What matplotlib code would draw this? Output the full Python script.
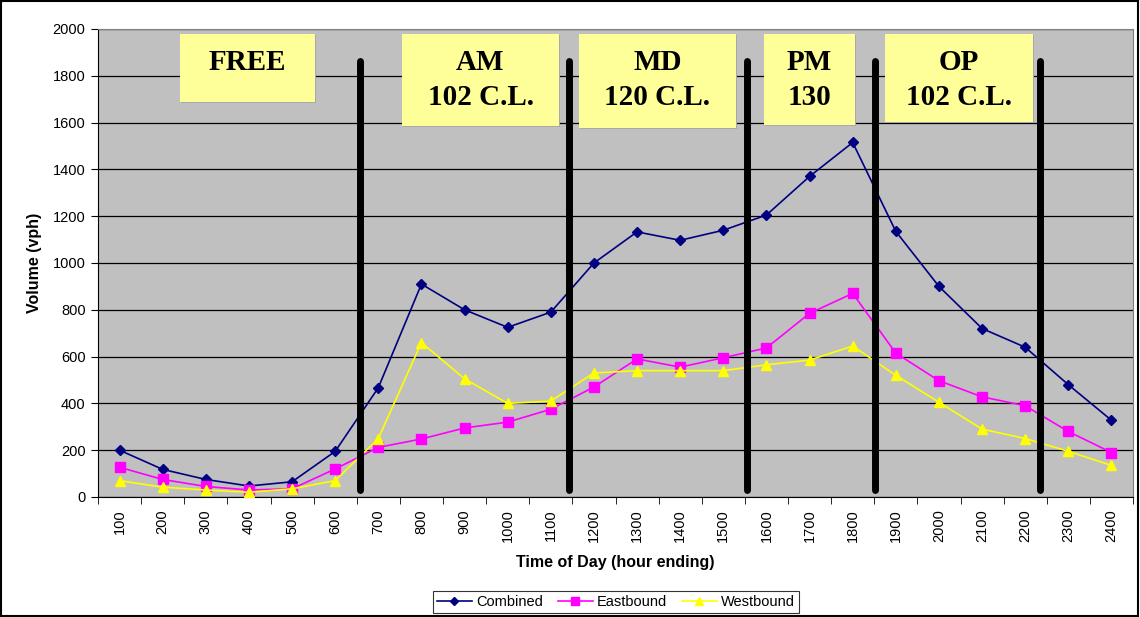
import matplotlib.pyplot as plt
from matplotlib.patches import Rectangle
import numpy as np

plt.rcParams['font.family'] = ['Liberation Sans', 'DejaVu Sans']

hours = ['100', '200', '300', '400', '500', '600', '700', '800', '900', '1000', '1100', '1200',
         '1300', '1400', '1500', '1600', '1700', '1800', '1900', '2000', '2100', '2200', '2300', '2400']
combined = [200, 118, 75, 47, 65, 195, 467, 910, 800, 725, 790, 1000,
            1133, 1097, 1140, 1205, 1370, 1515, 1135, 900, 720, 640, 480, 328]
eastbound = [127, 75, 45, 30, 35, 120, 212, 248, 295, 320, 375, 470,
             590, 555, 595, 637, 785, 870, 615, 497, 428, 390, 280, 190]
westbound = [70, 42, 30, 20, 35, 70, 250, 660, 505, 400, 410, 530,
             540, 540, 540, 565, 585, 645, 520, 405, 290, 250, 195, 135]

# period boundaries (between categories) and period labels
dividers = [5.58, 10.42, 14.55, 17.52, 21.34]
periods = ['FREE', 'AM\n102 C.L.', 'MD\n120 C.L.', 'PM\n130', 'OP\n102 C.L.']

fig = plt.figure(figsize=(11.4, 6.17), dpi=100)
ax = fig.add_axes([98 / 1140, 1 - 497 / 617, 1035 / 1140, 468 / 617])
ax.set_facecolor('#c0c0c0')

x = np.arange(len(hours))
ax.plot(x, combined, color='#000080', marker='D', markersize=5, lw=1.2, label='Combined', zorder=4)
ax.plot(x, eastbound, color='#ff00ff', marker='s', markersize=7, lw=1.2, label='Eastbound', zorder=4)
ax.plot(x, westbound, color='#ffff00', marker='^', markersize=7, lw=1.2, label='Westbound', zorder=4)

for d in dividers:
    ax.plot([d, d], [30, 1865], color='black', lw=5, solid_capstyle='round', zorder=5)

# label boxes in pixel positions (left, right, bottom), top is at y=34
boxes = [(180, 315, 102), (402, 559, 126), (579, 736, 128), (764, 855, 125), (885, 1033, 122)]
for (l, r, b), txt in zip(boxes, periods):
    x0 = (l - 98) / 1035
    w = (r - l) / 1035
    y0 = (497 - b) / 468
    h = (b - 34) / 468
    ax.add_patch(Rectangle((x0 + 0.001, y0 - 0.002), w, h, transform=ax.transAxes,
                           facecolor='#a8a8a8', edgecolor='none', zorder=6))
    ax.add_patch(Rectangle((x0, y0), w, h, transform=ax.transAxes,
                           facecolor='#ffff99', edgecolor='none', zorder=7))
    ax.text(x0 + w / 2, (497 - 49) / 468, txt,
            transform=ax.transAxes, ha='center', va='top', multialignment='center',
            family='Liberation Serif', fontweight='bold', fontsize=21, zorder=8,
            linespacing=1.38)

ax.set_ylim(0, 2000)
ax.set_xlim(-0.5, len(hours) - 0.5)
ax.set_yticks(range(0, 2001, 200))
ax.set_yticklabels([str(v) for v in range(0, 2001, 200)], fontsize=10.5)
ax.set_xticks(x)
ax.set_xticklabels(hours, rotation=90, fontsize=10.5)
ax.tick_params(axis='x', length=0, pad=9)
ax.set_xticks(np.arange(-0.5, len(hours), 1), minor=True)
ax.tick_params(axis='x', which='minor', length=5, direction='out')
ax.tick_params(axis='y', length=5, direction='out', pad=4)
ax.grid(axis='y', color='black', lw=0.9)
ax.set_axisbelow(True)
for s in ['top', 'right']:
    ax.spines[s].set_color('#808080')
ax.spines['left'].set_color('black')
ax.spines['bottom'].set_color('black')

ax.set_ylabel('Volume (vph)', fontsize=11.5, fontweight='bold', labelpad=8)
ax.set_xlabel('Time of Day (hour ending)', fontsize=11.5, fontweight='bold', labelpad=9)

leg = fig.legend(loc='center', bbox_to_anchor=(616 / 1140, 1 - 602 / 617), ncol=3,
                 fontsize=10.5, frameon=True, fancybox=False, edgecolor='black',
                 handlelength=2.4, handletextpad=0.3, columnspacing=1.0,
                 borderpad=0.25, markerscale=0.8)
leg.get_frame().set_linewidth(0.8)

fig.patches.append(Rectangle((0.001, 0.002), 0.997, 0.996, transform=fig.transFigure,
                             fill=False, edgecolor='black', lw=1.5))

fig.savefig('out.png', dpi=100)
